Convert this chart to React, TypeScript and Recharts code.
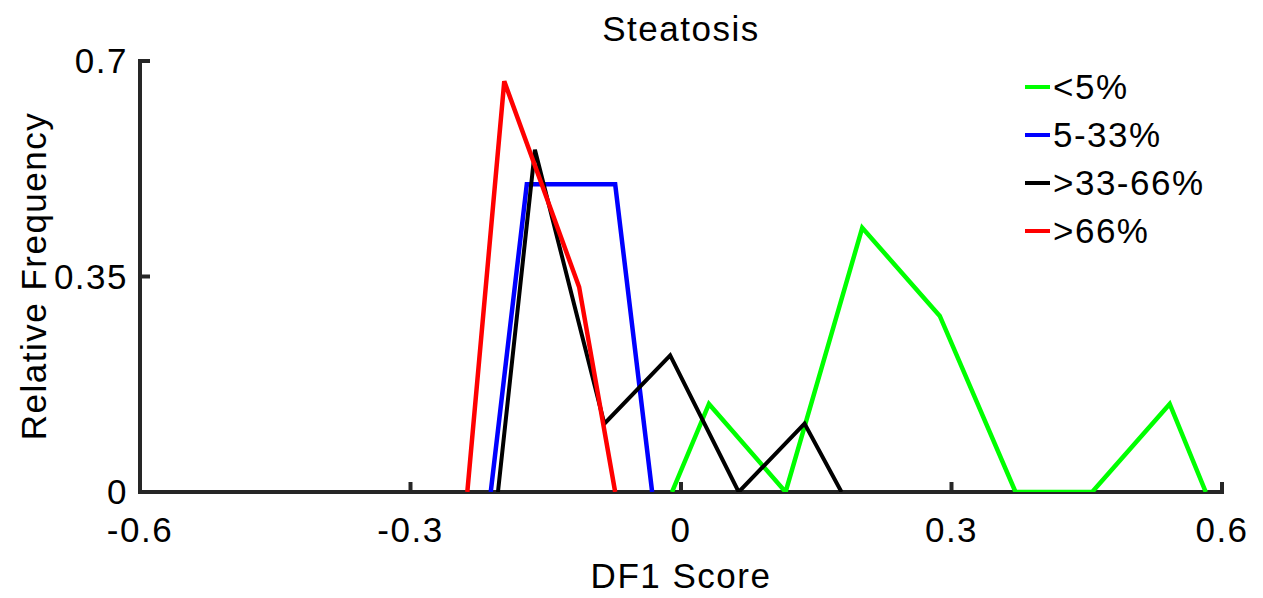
import React from 'react';
import { LineChart, Line, XAxis, YAxis, Legend, Label } from 'recharts';

const FONT = '"Liberation Sans", Arial, Helvetica, sans-serif';
const AXIS = '#262626';

const xTicks = [-0.6, -0.3, 0, 0.3, 0.6];
const xTickLabels = ['-0.6', '-0.3', '0', '0.3', '0.6'];
const yTicks = [0, 0.35, 0.7];
const yTickLabels = ['0', '0.35', '0.7'];

const seriesNames = ['<5%', '5-33%', '>33-66%', '>66%'];
const seriesColors = ['#00ff00', '#0000ff', '#000000', '#ff0000'];
const seriesWidths = [4.5, 4.5, 4, 4.5];

const lt5X = [-0.01, 0.031, 0.116, 0.201, 0.287, 0.371, 0.456, 0.542, 0.582];
const lt5Y = [0, 0.143, 0, 0.429, 0.286, 0, 0, 0.143, 0];

const mid5to33X = [-0.211, -0.171, -0.073, -0.032];
const mid5to33Y = [0, 0.5, 0.5, 0];

const mid33to66X = [-0.203, -0.162, -0.085, -0.012, 0.064, 0.137, 0.178];
const mid33to66Y = [0, 0.556, 0.111, 0.222, 0, 0.111, 0];

const gt66X = [-0.237, -0.196, -0.113, -0.073];
const gt66Y = [0, 0.667, 0.333, 0];

const toPoints = (xs: number[], ys: number[]) => xs.map((x, i) => ({ x, y: ys[i] }));

const seriesData = [
  toPoints(lt5X, lt5Y),
  toPoints(mid5to33X, mid5to33Y),
  toPoints(mid33to66X, mid33to66Y),
  toPoints(gt66X, gt66Y),
];

const textStyle = { fontFamily: FONT, fontSize: 35, letterSpacing: 1.5, fill: '#000' };

const XTick = (props: any) => {
  const { x, y, payload } = props;
  const idx = xTicks.indexOf(payload.value);
  return (
    <g>
      <line x1={x} x2={x} y1={y} y2={y - 10} stroke={AXIS} strokeWidth={4} />
      <text x={x} y={y + 50} textAnchor="middle" style={textStyle as any}>
        {idx >= 0 ? xTickLabels[idx] : String(payload.value)}
      </text>
    </g>
  );
};

const YTick = (props: any) => {
  const { x, y, payload } = props;
  const idx = yTicks.indexOf(payload.value);
  return (
    <g>
      <line x1={x} x2={x + 10} y1={y} y2={y} stroke={AXIS} strokeWidth={4} />
      <text x={x - 12} y={y + 12} textAnchor="end" style={textStyle as any}>
        {idx >= 0 ? yTickLabels[idx] : String(payload.value)}
      </text>
    </g>
  );
};

const renderLegend = () => (
  <div style={{ fontFamily: FONT, fontSize: 35, letterSpacing: 1.5, color: '#000' }}>
    {seriesNames.map((name, i) => (
      <div key={name} style={{ display: 'flex', alignItems: 'center', height: 48 }}>
        <span style={{ display: 'inline-block', width: 25, height: 4, background: seriesColors[i], marginRight: 3 }} />
        <span>{name}</span>
      </div>
    ))}
  </div>
);

export default function App() {
  return (
    <div style={{ position: 'absolute', left: 0, top: 0, width: 1263, height: 598, background: '#fff' }}>
      <LineChart width={1263} height={598} margin={{ top: 61, right: 41, left: 0, bottom: 0 }}>
        <text x={681} y={41} textAnchor="middle" style={textStyle as any}>Steatosis</text>
        <XAxis
          type="number"
          dataKey="x"
          domain={[-0.6, 0.6]}
          ticks={xTicks}
          allowDataOverflow
          height={106}
          tickSize={0}
          tickMargin={0}
          tickLine={false}
          tick={<XTick />}
          axisLine={{ stroke: AXIS, strokeWidth: 4, strokeLinecap: 'square' }}
          interval={0}
        >
          <Label
            content={() => (
              <text x={681} y={588} textAnchor="middle" style={textStyle as any}>DF1 Score</text>
            )}
          />
        </XAxis>
        <YAxis
          type="number"
          dataKey="y"
          domain={[0, 0.7]}
          ticks={yTicks}
          allowDataOverflow
          width={140}
          tickSize={0}
          tickMargin={0}
          tickLine={false}
          tick={<YTick />}
          axisLine={{ stroke: AXIS, strokeWidth: 4, strokeLinecap: 'square' }}
          interval={0}
        >
          <Label
            content={() => (
              <text
                x={33}
                y={276}
                textAnchor="middle"
                dominantBaseline="central"
                transform="rotate(-90 33 276)"
                style={textStyle as any}
              >
                Relative Frequency
              </text>
            )}
          />
        </YAxis>
        <Legend
          layout="vertical"
          align="center"
          verticalAlign="middle"
          content={renderLegend}
          wrapperStyle={{ left: 1025, top: 63, width: 238, height: 200 }}
        />
        {seriesData.map((d, i) => (
          <Line
            key={seriesNames[i]}
            name={seriesNames[i]}
            data={d}
            dataKey="y"
            type="linear"
            stroke={seriesColors[i]}
            strokeWidth={seriesWidths[i]}
            dot={false}
            activeDot={false}
            isAnimationActive={false}
            {...({ zIndex: 1000 } as any)}
          />
        ))}
      </LineChart>
    </div>
  );
}
